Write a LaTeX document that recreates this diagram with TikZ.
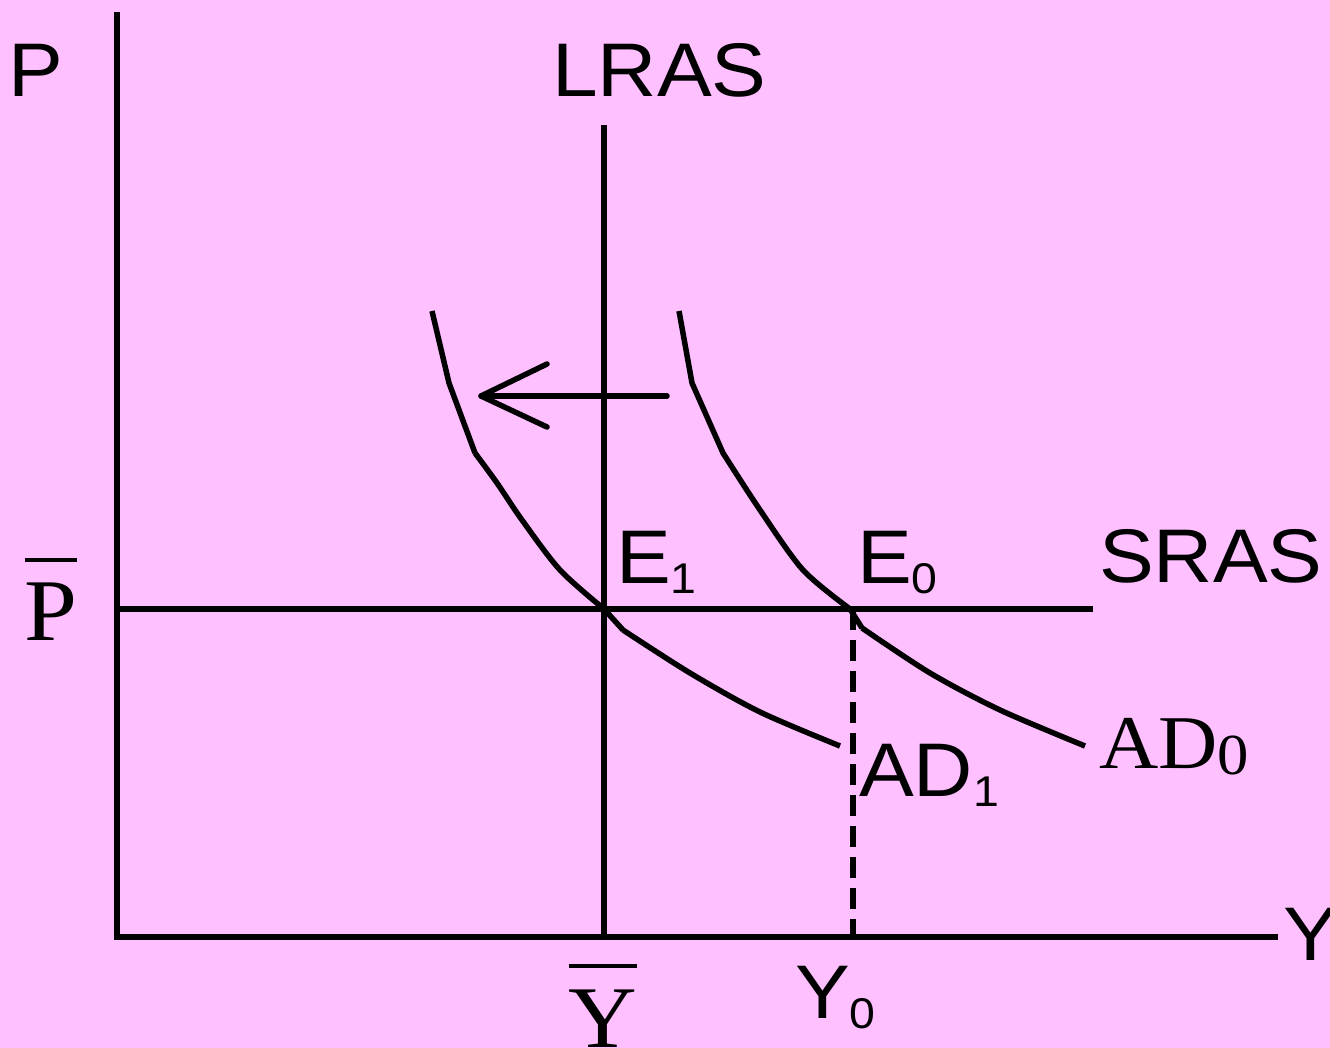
\documentclass[tikz,border=0pt]{standalone}
\usepackage{fontspec}
\setmainfont[FakeStretch=1.08]{Liberation Serif}
\newfontfamily\arialf[FakeStretch=1.08]{Liberation Sans}
\definecolor{bgpink}{RGB}{255,192,255}
\newcommand\barred[2]{\setbox0\hbox{#1}\rlap{\raisebox{#2}{\rule{\wd0}{4pt}}}\box0}
\tikzset{
  ln/.style={line width=5.5pt, black},
  crv/.style={line width=5.5pt, black, line join=round},
  sanslab/.style={inner sep=0pt, anchor=base west, font=\arialf\fontsize{76}{80}\selectfont},
  seriflab/.style={inner sep=0pt, anchor=base west, font=\fontsize{76}{80}\selectfont},
}
\newcommand\sbs[1]{\raisebox{-10pt}{\fontsize{43}{45}\selectfont #1}}
\begin{document}
\begin{tikzpicture}[x=1pt,y=-1pt]
\useasboundingbox (0,0) rectangle (1330,1048);
\fill[bgpink] (0,0) rectangle (1330,1048);
% axes
\coordinate (otop) at (117,12);
\coordinate (o) at (117,937);
\coordinate (xend) at (1278,937);
\draw[ln] (otop) -- (o) -- (xend);
% LRAS
\coordinate (ltop) at (604,125);
\coordinate (lbot) at (604,937);
\draw[ln] (ltop) -- (lbot);
% SRAS
\coordinate (sl) at (117,609);
\coordinate (sr) at (1093,609);
\draw[ln] (sl) -- (sr);
% dashed
\coordinate (dtop) at (853,609);
\coordinate (dbot) at (853,937);
\draw[ln, dash pattern=on 21pt off 10pt] (dtop) -- (dbot);
% AD1
\draw[crv] (432,311) -- (449,383) -- (475,453)
  plot[smooth, tension=0.5] coordinates {(475,453) (497,483) (522,520) (560,570) (604,609)}
  -- (623,630)
  plot[smooth, tension=0.5] coordinates {(623,630) (690,673) (760,712) (840,746)};
% AD0
\draw[crv] (679,311) -- (692,383) -- (723,453)
  plot[smooth, tension=0.5] coordinates {(723,453) (760,510) (803,570) (850,609)}
  -- (862,628)
  plot[smooth, tension=0.5] coordinates {(862,628) (930,673) (1000,710) (1085,746)};
% shift arrow
\coordinate (as) at (667,396);
\coordinate (ae) at (481,396);
\draw[crv, line cap=round] (as) -- (ae);
\draw[crv, line cap=round] (547,364) -- (ae) -- (547,427);
% labels
\node[sanslab] (lp) at (8,97) {P};
\node[sanslab] (llras) at (552,97) {LRAS};
\node[sanslab] (le1) at (616,583) {E\sbs{1}};
\node[sanslab] (le0) at (857,583) {E\sbs{0}};
\node[sanslab] (lsras) at (1099,582) {SRAS};
\node[sanslab] (lad1) at (859,796) {AD\sbs{1}};
\node[sanslab] (ly0) at (795,1018) {Y\sbs{0}};
\node[sanslab] (ly) at (1283,960) {Y};
\node[seriflab] (lad0) at (1099,768) {AD\raisebox{-6pt}{\fontsize{58}{60}\selectfont 0}};
\node[inner sep=0pt, anchor=base, font=\fontsize{88}{90}\selectfont] (lpbar) at (51,640) {\barred{P}{78pt}};
\node[inner sep=0pt, anchor=base, font=\fontsize{88}{90}\selectfont] (lybar) at (603,1047) {\barred{Y}{79pt}};
\end{tikzpicture}
\end{document}
